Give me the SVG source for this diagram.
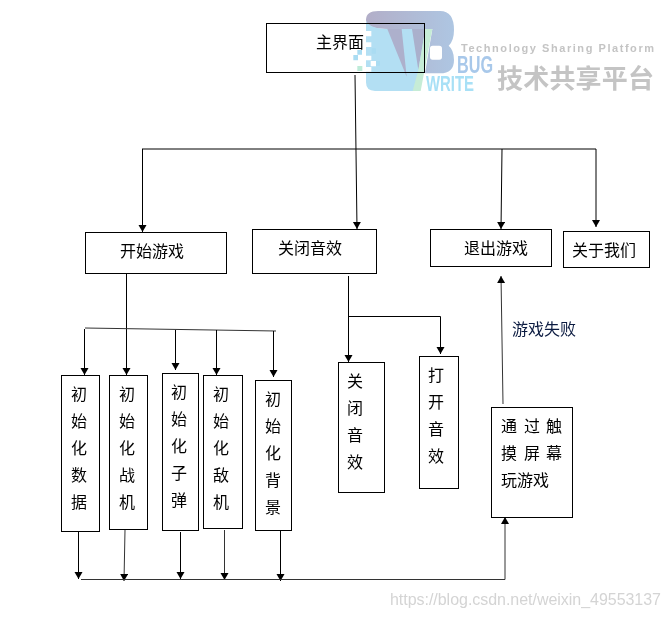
<svg xmlns="http://www.w3.org/2000/svg" width="670" height="618" viewBox="0 0 670 618">
<defs>
<linearGradient id="lg" x1="0" x2="1" y1="0" y2="0"><stop offset="0" stop-color="#b2aec8"/><stop offset="1" stop-color="#aec6e2"/></linearGradient>
<marker id="ah" markerUnits="userSpaceOnUse" markerWidth="9" markerHeight="9" refX="7" refY="4" orient="auto"><path d="M0,0 L7,4 L0,8 Z" fill="#000"/></marker>
</defs>
<style>
.box{fill:#fff;stroke:#000;stroke-width:1}
.t{font-family:"Noto Sans CJK SC","Noto Sans",sans-serif;font-size:16px;fill:#000}
.c{fill:none;stroke:#000;stroke-width:1}
.a{marker-end:url(#ah)}
.g{stroke:#333}
</style>
<rect width="670" height="618" fill="#fff"/>
<g id="connectors">
<path class="c a" d="M355,75 L357,229"/>
<path class="c" d="M142,149 H596"/>
<path class="c a" d="M142.500,149 V232"/>
<path class="c a" d="M502,149 L501,229"/>
<path class="c a" d="M596,149 V227"/>
<path class="c a" d="M126.500,274 V375"/>
<path class="c g" d="M85,328 L276,331"/>
<path class="c a" d="M84.500,329 V375"/>
<path class="c a" d="M175.500,330 V370"/>
<path class="c a" d="M216.500,330 V375"/>
<path class="c a" d="M273.500,331 V377"/>
<path class="c a" d="M78.500,532 V579"/>
<path class="c a g" d="M125,530 L124,581"/>
<path class="c a" d="M180.500,532 V579"/>
<path class="c a g" d="M224.500,530 V580"/>
<path class="c a" d="M280.500,531 V581"/>
<path class="c a g" d="M81,579.500 H505 V517"/>
<path class="c" d="M348.500,276 V316"/>
<path class="c a" d="M348.500,316 V362"/>
<path class="c a" d="M348.500,316.500 H440.500 V354"/>
<path class="c a g" d="M503,404 L501,276"/>
</g>
<g id="node-main"><rect class="box" x="266.500" y="23.500" width="158" height="49"/><text class="t" x="316" y="48">主界面</text></g>
<g id="node-start"><rect class="box" x="85.500" y="232.500" width="141" height="41"/><text class="t" x="120" y="257">开始游戏</text></g>
<g id="node-sound"><rect class="box" x="252.500" y="229.500" width="124" height="44"/><text class="t" x="278" y="254">关闭音效</text></g>
<g id="node-exit"><rect class="box" x="430.500" y="229.500" width="121" height="37"/><text class="t" x="464" y="254">退出游戏</text></g>
<g id="node-about"><rect class="box" x="563.500" y="231.500" width="86" height="36"/><text class="t" x="572" y="256">关于我们</text></g>
<g id="node-data"><rect class="box" x="61.500" y="375.500" width="38" height="156"/><text class="t" x="71" y="400">初</text><text class="t" x="71" y="427">始</text><text class="t" x="71" y="454">化</text><text class="t" x="71" y="481">数</text><text class="t" x="71" y="508">据</text></g>
<g id="node-plane"><rect class="box" x="109.500" y="375.500" width="38" height="154"/><text class="t" x="119" y="400">初</text><text class="t" x="119" y="427">始</text><text class="t" x="119" y="454">化</text><text class="t" x="119" y="481">战</text><text class="t" x="119" y="508">机</text></g>
<g id="node-bullet"><rect class="box" x="162.500" y="373.500" width="36" height="157"/><text class="t" x="171" y="398">初</text><text class="t" x="171" y="425">始</text><text class="t" x="171" y="452">化</text><text class="t" x="171" y="479">子</text><text class="t" x="171" y="506">弹</text></g>
<g id="node-enemy"><rect class="box" x="203.500" y="375.500" width="39" height="153"/><text class="t" x="213" y="400">初</text><text class="t" x="213" y="427">始</text><text class="t" x="213" y="454">化</text><text class="t" x="213" y="481">敌</text><text class="t" x="213" y="508">机</text></g>
<g id="node-bg"><rect class="box" x="255.500" y="380.500" width="36" height="150"/><text class="t" x="265" y="405">初</text><text class="t" x="265" y="432">始</text><text class="t" x="265" y="459">化</text><text class="t" x="265" y="486">背</text><text class="t" x="265" y="513">景</text></g>
<g id="node-sound-off"><rect class="box" x="338.500" y="362.500" width="46" height="130"/><text class="t" x="347" y="387">关</text><text class="t" x="347" y="414">闭</text><text class="t" x="347" y="441">音</text><text class="t" x="347" y="468">效</text></g>
<g id="node-sound-on"><rect class="box" x="419.500" y="356.500" width="39" height="132"/><text class="t" x="428" y="381">打</text><text class="t" x="428" y="408">开</text><text class="t" x="428" y="435">音</text><text class="t" x="428" y="462">效</text></g>
<g id="node-touch"><rect class="box" x="491.500" y="407.500" width="81" height="110"/><text class="t" x="501" y="432">通</text><text class="t" x="524" y="432">过</text><text class="t" x="546" y="432">触</text><text class="t" x="501" y="459">摸</text><text class="t" x="524" y="459">屏</text><text class="t" x="546" y="459">幕</text><text class="t" x="501" y="486">玩游戏</text></g>
<text class="t" x="512" y="335" style="fill:#0a1a40">游戏失败</text>
<g id="watermark" style="mix-blend-mode:multiply">
<g transform="translate(350,5) scale(.33333)">
<path d="M48,45 Q48,18 85,18 H270 Q312,18 312,75 Q312,108 296,122 Q312,135 312,165 Q312,205 270,205 H225 L247,72 H115 Q48,72 48,45 Z" fill="url(#lg)"/>
<path d="M48,48 Q62,72 115,72 H225 L205,258 H75 Q48,258 48,232 Z" fill="#b3dff3"/>
<path d="M112,72 H155 L170,215 Z" fill="#adb0cc"/>
<path d="M186,72 H226 L205,195 Z" fill="#aab0cc"/>
<path d="M226,72 H247 L212,258 H188 L205,195 Z" fill="#c6ecd6"/>
<rect x="240" y="122" width="36" height="42" rx="8" fill="#fff"/>
<path d="M48,78h16v16h-16zM48,112h16v14h-16zM48,152h16v14h-16zM62,168h16v16h-16zM48,186h16v14h-16z" fill="#fff"/>
<path d="M22,135h14v14h-14zM10,150h14v16h-14zM65,130h13v16h-13zM78,168h12v14h-12z" fill="#aadcf2"/>
<rect x="22" y="183" width="15" height="15" fill="#bdebd8"/>
</g>
<text transform="translate(457,73) scale(.706,1)" style="font-family:'Liberation Sans',sans-serif;font-size:23px;font-weight:bold;fill:#a8c8ea">BUG</text>
<text transform="translate(426,91) scale(.677,1)" style="font-family:'Liberation Sans',sans-serif;font-size:22px;font-weight:bold;fill:#a8e0f6">WRITE</text>
<text x="461" y="52" style="font-family:'Liberation Sans',sans-serif;font-size:11px;font-weight:bold;fill:#c4c4c4" textLength="193">Technology Sharing Platform</text>
<text x="497" y="88" style="font-family:'Noto Sans CJK SC',sans-serif;font-size:26px;font-weight:bold;fill:#c4c4c4" textLength="157">技术共享平台</text>
</g>
<text x="390" y="605" style="font-family:'Liberation Sans',sans-serif;font-size:16px;fill:#d4d4d4" textLength="271">https://blog.csdn.net/weixin_49553137</text>
</svg>
